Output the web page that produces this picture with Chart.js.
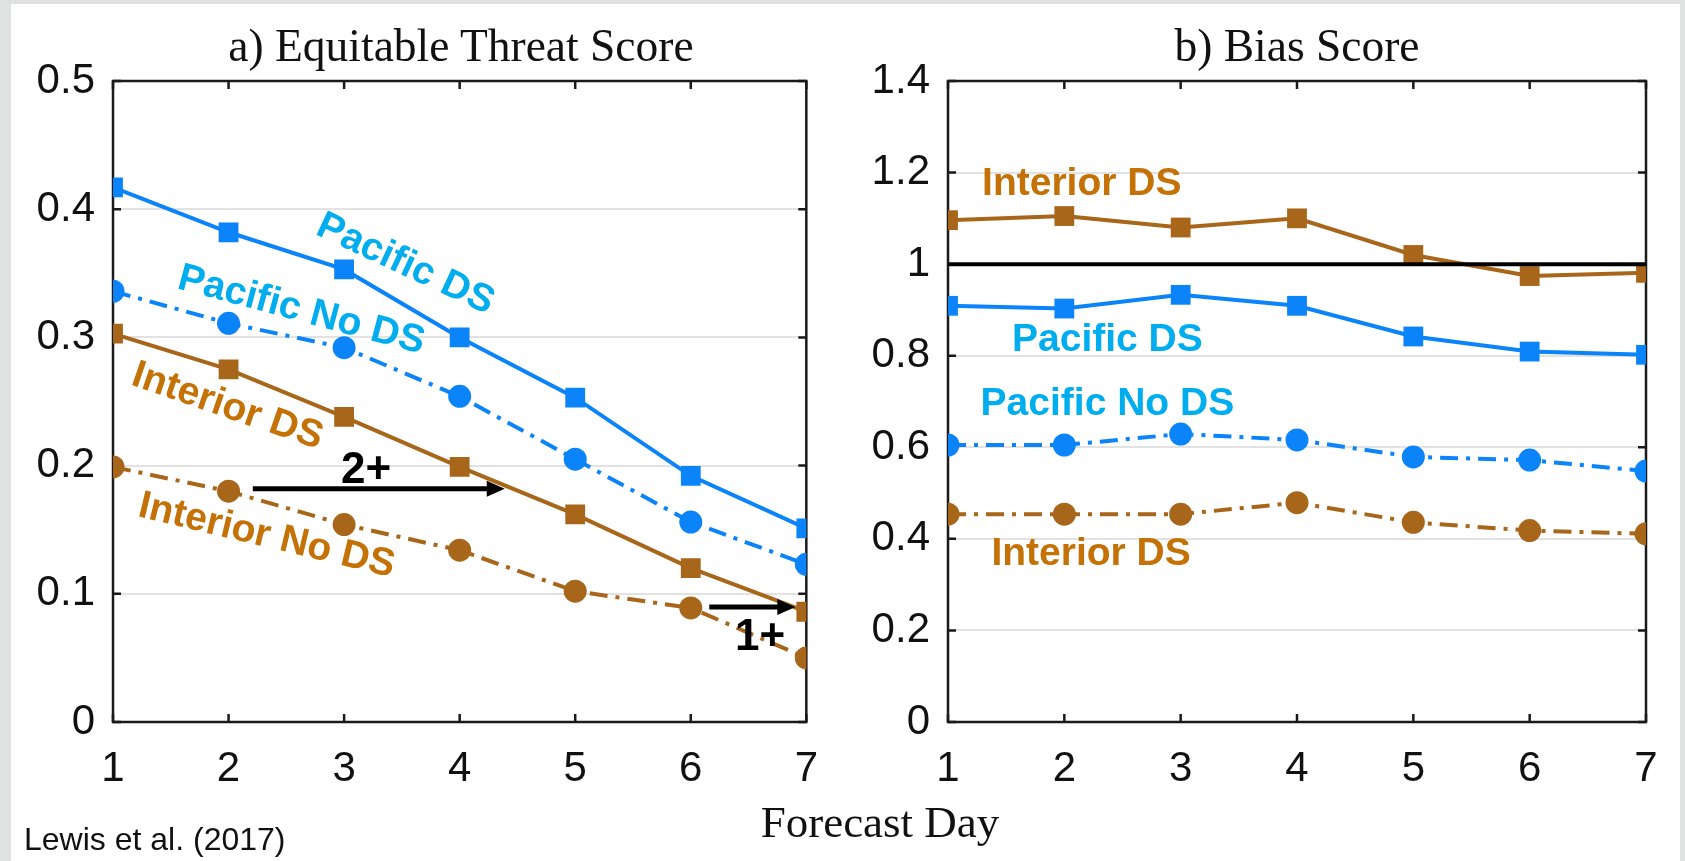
<!DOCTYPE html>
<html>
<head>
<meta charset="utf-8">
<script src="https://cdn.jsdelivr.net/npm/chart.js@4.4.1/dist/chart.umd.min.js"></script>
<style>
  html, body { margin: 0; padding: 0; }
  body { width: 1685px; height: 861px; background: #dfe2e1; position: relative; overflow: hidden; }
  #sheet { position: absolute; left: 11px; top: 4px; width: 1669px; height: 857px; background: #fff; }
  canvas { position: absolute; top: 0; }
  .lbl { position: absolute; white-space: nowrap; color: #111; }
  .serif { font-family: 'Liberation Serif', 'Times New Roman', serif; }
</style>
</head>
<body>
<div id="sheet"></div>
<canvas id="etsChart" width="840" height="861" style="left:0"></canvas>
<canvas id="biasChart" width="845" height="861" style="left:840px"></canvas>
<div class="lbl serif" style="left:461px; top:23px; font-size:45.5px; line-height:45.5px; transform:translateX(-50%)">a) Equitable Threat Score</div>
<div class="lbl serif" style="left:1297px; top:23px; font-size:45.5px; line-height:45.5px; transform:translateX(-50%)">b) Bias Score</div>
<div class="lbl serif" style="left:880px; top:800px; font-size:45px; line-height:45px; transform:translateX(-50%)">Forecast Day</div>
<div class="lbl" style="left:24px; top:823px; font-family:'Liberation Sans', Arial, sans-serif; font-size:32px; line-height:32px">Lewis et al. (2017)</div>
<script>
// forecast days on the x axis
const days = [1, 2, 3, 4, 5, 6, 7];

// a) Equitable Threat Score
const etsPacificDS = [0.417, 0.382, 0.353, 0.300, 0.253, 0.192, 0.151];
const etsPacificNoDS = [0.336, 0.311, 0.292, 0.254, 0.205, 0.156, 0.123];
const etsInteriorDS = [0.303, 0.275, 0.238, 0.199, 0.162, 0.120, 0.086];
const etsInteriorNoDS = [0.199, 0.180, 0.154, 0.134, 0.102, 0.089, 0.050];
const etsTicks = [0, 0.1, 0.2, 0.3, 0.4, 0.5];

// b) Bias Score
const biasPacificDS = [0.909, 0.903, 0.933, 0.909, 0.842, 0.809, 0.802];
const biasPacificNoDS = [0.605, 0.605, 0.629, 0.616, 0.579, 0.572, 0.548];
const biasInteriorDS = [1.096, 1.105, 1.080, 1.100, 1.020, 0.974, 0.981];
const biasInteriorNoDS = [0.454, 0.454, 0.454, 0.479, 0.436, 0.418, 0.411];
const biasPerfect = [1, 1, 1, 1, 1, 1, 1];
const biasTicks = [0, 0.2, 0.4, 0.6, 0.8, 1, 1.2, 1.4];

const blueLine = '#0a84f8';
const brownLine = '#a8661a';
const cyanText = '#00adef';
const brownText = '#c47106';
const dashDot = [18, 8, 4, 8];
const tickFont = { family: "'Liberation Sans', Arial, sans-serif", size: 42 };

const toPoints = (vals) => days.map((d, i) => ({ x: d, y: vals[i] }));

function series(vals, color, marker, dashed) {
    return {
        data: toPoints(vals),
        borderColor: color,
        backgroundColor: color,
        borderWidth: 4,
        borderDash: dashed ? dashDot : [],
        pointStyle: marker,
        pointRadius: marker === 'rect' ? 14 : 11.5,
        pointBorderWidth: 0,
        tension: 0
    };
}

// box around the plot area plus matlab-style inward tick marks
const frameTicks = {
    id: 'frameTicks',
    beforeDatasetsDraw(chart) {
        const { ctx, chartArea: a, scales: { x, y } } = chart;
        ctx.save();
        ctx.strokeStyle = '#1a1a1a';
        ctx.lineWidth = 2.5;
        ctx.strokeRect(a.left, a.top, a.right - a.left, a.bottom - a.top);
        ctx.beginPath();
        x.ticks.forEach(t => {
            const px = x.getPixelForValue(t.value);
            ctx.moveTo(px, a.bottom); ctx.lineTo(px, a.bottom - 8);
            ctx.moveTo(px, a.top); ctx.lineTo(px, a.top + 8);
        });
        y.ticks.forEach(t => {
            const py = y.getPixelForValue(t.value);
            ctx.moveTo(a.left, py); ctx.lineTo(a.left + 8, py);
            ctx.moveTo(a.right, py); ctx.lineTo(a.right - 8, py);
        });
        ctx.stroke();
        ctx.restore();
    }
};

// series names and arrows written on the plot, placed in data units
const notes = {
    id: 'notes',
    afterDatasetsDraw(chart, args, opts) {
        const { ctx, scales: { x, y } } = chart;
        ctx.save();
        (opts.arrows || []).forEach(ar => {
            const x1 = x.getPixelForValue(ar.from), x2 = x.getPixelForValue(ar.to);
            const py = y.getPixelForValue(ar.y);
            ctx.strokeStyle = '#000';
            ctx.fillStyle = '#000';
            ctx.lineWidth = 5;
            ctx.beginPath();
            ctx.moveTo(x1, py); ctx.lineTo(x2 - 14, py);
            ctx.stroke();
            ctx.beginPath();
            ctx.moveTo(x2, py); ctx.lineTo(x2 - 18, py - 8); ctx.lineTo(x2 - 18, py + 8);
            ctx.closePath();
            ctx.fill();
        });
        (opts.items || []).forEach(it => {
            ctx.save();
            ctx.translate(x.getPixelForValue(it.x), y.getPixelForValue(it.y));
            ctx.rotate((it.rot || 0) * Math.PI / 180);
            ctx.font = `bold ${it.size || 39}px 'Liberation Sans', Arial, sans-serif`;
            ctx.fillStyle = it.color;
            ctx.textAlign = 'center';
            ctx.textBaseline = 'middle';
            ctx.fillText(it.text, 0, 0);
            ctx.restore();
        });
        ctx.restore();
    }
};

function makeOptions(yMax, yTicks, yWidth, rightPad, noteOpts) {
    return {
        responsive: false,
        animation: false,
        devicePixelRatio: 1,
        layout: { padding: { top: 81, right: rightPad, left: 0, bottom: 0 } },
        scales: {
            x: {
                type: 'linear',
                min: 1,
                max: 7,
                afterFit(s) { s.height = 139; },
                afterBuildTicks(s) { s.ticks = days.map(v => ({ value: v })); },
                grid: { display: false, drawTicks: false },
                border: { display: false },
                ticks: { font: tickFont, color: '#111', padding: 22 }
            },
            y: {
                min: 0,
                max: yMax,
                afterFit(s) { s.width = yWidth; },
                afterBuildTicks(s) { s.ticks = yTicks.map(v => ({ value: v })); },
                grid: { color: '#e2e2e2', lineWidth: 2, drawTicks: false },
                border: { display: false },
                ticks: {
                    font: tickFont,
                    color: '#111',
                    padding: 18,
                    callback: v => String(+v.toFixed(1))
                }
            }
        },
        plugins: {
            legend: { display: false },
            title: { display: false },
            tooltip: { enabled: false },
            notes: noteOpts
        }
    };
}

new Chart(document.getElementById('etsChart'), {
    type: 'line',
    data: {
        datasets: [
            series(etsPacificDS, blueLine, 'rect', false),
            series(etsPacificNoDS, blueLine, 'circle', true),
            series(etsInteriorDS, brownLine, 'rect', false),
            series(etsInteriorNoDS, brownLine, 'circle', true)
        ]
    },
    options: makeOptions(0.5, etsTicks, 113, 27, {
        items: [
            { text: 'Pacific DS', x: 3.53, y: 0.357, rot: 25, color: cyanText },
            { text: 'Pacific No DS', x: 2.63, y: 0.321, rot: 15, color: cyanText },
            { text: 'Interior DS', x: 1.99, y: 0.246, rot: 19, color: brownText },
            { text: 'Interior No DS', x: 2.33, y: 0.145, rot: 13.5, color: brownText },
            { text: '2+', x: 3.19, y: 0.196, color: '#000', size: 44 },
            { text: '1+', x: 6.6, y: 0.066, color: '#000', size: 44 }
        ],
        arrows: [
            { from: 2.21, to: 4.39, y: 0.182 },
            { from: 6.16, to: 6.905, y: 0.0897 }
        ]
    }),
    plugins: [frameTicks, notes]
});

new Chart(document.getElementById('biasChart'), {
    type: 'line',
    data: {
        datasets: [
            {
                data: toPoints(biasPerfect),
                borderColor: '#000',
                borderWidth: 4,
                pointRadius: 0,
                tension: 0
            },
            series(biasInteriorDS, brownLine, 'rect', false),
            series(biasPacificDS, blueLine, 'rect', false),
            series(biasPacificNoDS, blueLine, 'circle', true),
            series(biasInteriorNoDS, brownLine, 'circle', true)
        ]
    },
    options: makeOptions(1.4, biasTicks, 108, 39, {
        items: [
            { text: 'Interior DS', x: 2.15, y: 1.175, color: brownText },
            { text: 'Pacific DS', x: 2.37, y: 0.834, color: cyanText },
            { text: 'Pacific No DS', x: 2.37, y: 0.694, color: cyanText },
            { text: 'Interior DS', x: 2.23, y: 0.367, color: brownText }
        ]
    }),
    plugins: [frameTicks, notes]
});
</script>
</body>
</html>
